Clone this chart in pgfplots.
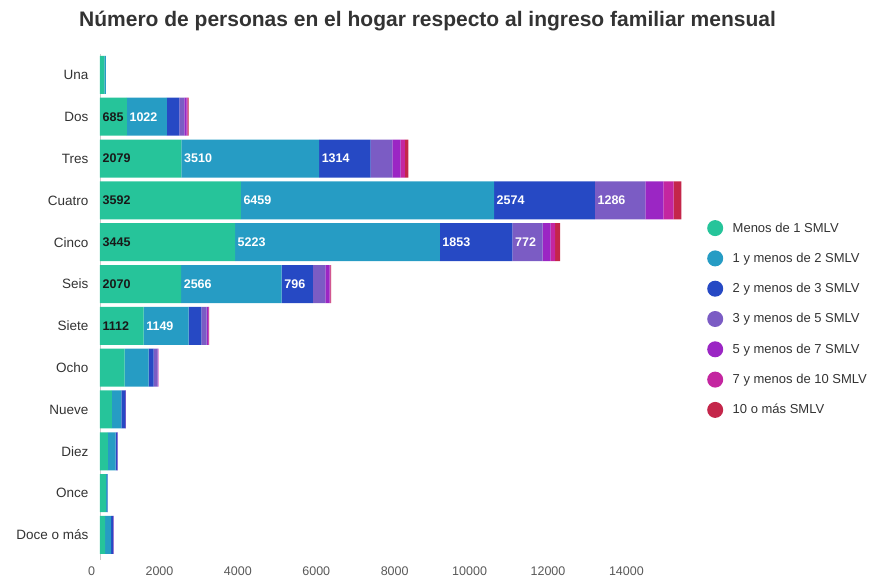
\documentclass[border=0pt]{standalone}
\usepackage{pgfplots}
\pgfplotsset{compat=1.18}
\usepackage{pgfplotstable}
\usepackage{fontspec}
\setmainfont{Liberation Sans}
\definecolor{cA}{HTML}{26C49A}
\definecolor{cB}{HTML}{269CC4}
\definecolor{cC}{HTML}{2649C4}
\definecolor{cD}{HTML}{7B5CC4}
\definecolor{cE}{HTML}{9B26C4}
\definecolor{cF}{HTML}{C426A0}
\definecolor{cG}{HTML}{C4264A}
\definecolor{txt}{HTML}{333333}
% row: 0 Una ... 11 Doce o más
\pgfplotstableread{
y  a    b    c    d    e    f    g
0  110  40   0    0    0    0    0
1  685  1022 315  128  59   25   25
2  2079 3510 1314 553  212  110  87
3  3592 6459 2574 1286 460  260  200
4  3445 5223 1853 772  204  110  128
5  2070 2566 796  316  110  20   15
6  1112 1149 324  135  36   15   10
7  630  612  128  100  15   5    0
8  306  237  100  15   5    0    0
9  204  196  40   10   5    0    0
10 150  35   10   5    0    0    0
11 128  153  50   15   5    0    0
}\data
% labels: start position of segment, row, text
\pgfplotstableread{
x     y  t
0     1  685
0     2  2079
0     3  3592
0     4  3445
0     5  2070
0     6  1112
}\labdark
\pgfplotstableread{
x     y  t
685   1  1022
2079  2  3510
5589  2  1314
3592  3  6459
10051 3  2574
12625 3  1286
3445  4  5223
8668  4  1853
10521 4  772
2070  5  2566
4636  5  796
1112  6  1149
}\labwhite
\begin{document}
\begin{tikzpicture}
\path[use as bounding box] (-100pt,-17pt) rectangle (774pt,560pt);
\node[anchor=west,font=\bfseries\fontsize{21}{24}\selectfont,text=txt,inner sep=0pt] at (-21pt,539pt) {Número de personas en el hogar respecto al ingreso familiar mensual};
\begin{axis}[
  at={(0pt,0pt)}, anchor=south west,
  scale only axis, width=588pt, height=506pt,
  xbar stacked, bar width=38pt,
  xmin=0, xmax=15000,
  ymin=-0.5, ymax=11.6, y dir=reverse,
  axis lines*=left,
  x axis line style={draw=none},
  y axis line style={draw=black!20, line width=0.8pt},
  xtick={0,2000,4000,6000,8000,10000,12000,14000},
  scaled x ticks=false,
  xticklabel style={font=\fontsize{12.5}{14}\selectfont, text=black!65, anchor=north east, xshift=-1.5pt, yshift=-3pt},
  /pgf/number format/assume math mode=true,
  /pgf/number format/1000 sep={},
  ytick={0,...,11},
  yticklabels={Una,Dos,Tres,Cuatro,Cinco,Seis,Siete,Ocho,Nueve,Diez,Once,Doce o más},
  yticklabel style={font=\fontsize{13.5}{15}\selectfont, text=txt, xshift=-8pt},
  major tick length=0pt,
  legend cell align=left,
  legend style={draw=none, fill=none, at={(1.0,0.5)}, anchor=west, yshift=-12pt, xshift=19pt,
    font=\fontsize{13}{15}\selectfont, text=txt, row sep=14.3pt, inner sep=0pt},
  legend image code/.code={\fill[#1,draw=none] (7.5pt,0pt) circle (8pt); \path (23pt,0pt);},
  every axis plot/.append style={draw=none},
]
\addplot[fill=cA] table[x=a,y=y]{\data};
\addplot[fill=cB] table[x=b,y=y]{\data};
\addplot[fill=cC] table[x=c,y=y]{\data};
\addplot[fill=cD] table[x=d,y=y]{\data};
\addplot[fill=cE] table[x=e,y=y]{\data};
\addplot[fill=cF] table[x=f,y=y]{\data};
\addplot[fill=cG] table[x=g,y=y]{\data};
\legend{Menos de 1 SMLV,1 y menos de 2 SMLV,2 y menos de 3 SMLV,3 y menos de 5 SMLV,5 y menos de 7 SMLV,7 y menos de 10 SMLV,10 o más SMLV}
\end{axis}
\begin{axis}[
  at={(0pt,0pt)}, anchor=south west,
  scale only axis, width=588pt, height=506pt,
  xmin=0, xmax=15000,
  ymin=-0.5, ymax=11.6, y dir=reverse,
  hide axis,
]
\addplot[only marks, mark=none, nodes near coords, point meta=explicit symbolic,
  every node near coord/.append style={anchor=west, font=\bfseries\fontsize{12.5}{14}\selectfont, text=black!90, inner sep=0pt, xshift=2.5pt}]
  table[x=x,y=y,meta=t]{\labdark};
\addplot[only marks, mark=none, nodes near coords, point meta=explicit symbolic,
  every node near coord/.append style={anchor=west, font=\bfseries\fontsize{12.5}{14}\selectfont, text=white, inner sep=0pt, xshift=2.5pt}]
  table[x=x,y=y,meta=t]{\labwhite};
\end{axis}
\end{tikzpicture}
\end{document}
